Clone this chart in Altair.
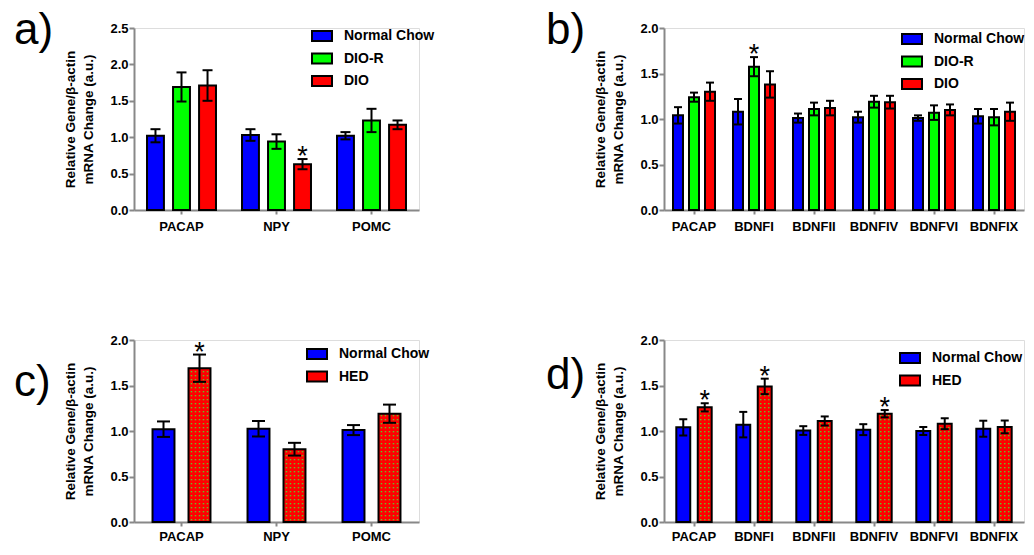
import altair as alt
import pandas as pd

FONT = "Liberation Sans"

# ---------------- data ----------------
groups_dio = ["Normal Chow", "DIO-R", "DIO"]
colors_dio = ["#0000FF", "#00FF00", "#FF0000"]
groups_hed = ["Normal Chow", "HED"]
colors_hed = ["#0000FF", "#FF0000"]

# panel a
genes_a = ["PACAP", "NPY", "POMC"]
a_normal = [1.02, 1.03, 1.02]
a_normal_err = [0.09, 0.08, 0.05]
a_dior = [1.69, 0.94, 1.23]
a_dior_err = [0.20, 0.10, 0.16]
a_dio = [1.71, 0.63, 1.17]
a_dio_err = [0.21, 0.07, 0.06]
a_sig = [("NPY", "DIO")]

# panel b
genes_b = ["PACAP", "BDNFI", "BDNFII", "BDNFIV", "BDNFVI", "BDNFIX"]
b_normal = [1.04, 1.08, 1.01, 1.02, 1.01, 1.03]
b_normal_err = [0.09, 0.14, 0.05, 0.06, 0.03, 0.08]
b_dior = [1.24, 1.575, 1.11, 1.19, 1.07, 1.02]
b_dior_err = [0.05, 0.105, 0.07, 0.065, 0.08, 0.09]
b_dio = [1.30, 1.38, 1.12, 1.185, 1.10, 1.08]
b_dio_err = [0.10, 0.145, 0.08, 0.07, 0.06, 0.10]
b_sig = [("BDNFI", "DIO-R")]

# panel c
genes_c = ["PACAP", "NPY", "POMC"]
c_normal = [1.02, 1.025, 1.01]
c_normal_err = [0.085, 0.085, 0.055]
c_hed = [1.69, 0.80, 1.19]
c_hed_err = [0.15, 0.07, 0.10]
c_sig = [("PACAP", "HED")]

# panel d
genes_d = ["PACAP", "BDNFI", "BDNFII", "BDNFIV", "BDNFVI", "BDNFIX"]
d_normal = [1.04, 1.07, 1.005, 1.015, 1.0, 1.025]
d_normal_err = [0.09, 0.14, 0.048, 0.06, 0.044, 0.088]
d_hed = [1.26, 1.49, 1.11, 1.19, 1.08, 1.045]
d_hed_err = [0.045, 0.085, 0.05, 0.04, 0.06, 0.07]
d_sig = [("PACAP", "HED"), ("BDNFI", "HED"), ("BDNFIV", "HED")]

Y_TITLE = ["Relative Gene/\u03b2-actin", "mRNA Change (a.u.)"]

H = 182


def table(genes, groups, values, errors, sig):
    rows = []
    for g_i, grp in enumerate(groups):
        for k, gene in enumerate(genes):
            v = values[g_i][k]
            e = errors[g_i][k]
            rows.append({"gene": gene, "group": grp, "value": v, "err": e,
                         "lo": v - e, "hi": v + e,
                         "sig": (gene, grp) in sig})
    return pd.DataFrame(rows)


def dot_row_path(offsets):
    return " ".join(f"M{o - 0.75},-0.5h1.5v1h-1.5Z" for o in offsets)


def panel(df, genes, groups, colors, width, height, ymax, xpad, opad, cap,
          letter, letter_xy, legend_xy, label_pad, dot_offsets=None):
    xenc = alt.X("gene:N", sort=genes,
                 scale=alt.Scale(paddingInner=xpad, paddingOuter=xpad / 2),
                 axis=alt.Axis(title=None, labelAngle=0, labelFontSize=13,
                               labelFontWeight="bold", labelFont=FONT,
                               labelPadding=label_pad, tickSize=4, domainWidth=2,
                               tickWidth=2))
    xoff = alt.XOffset("group:N", sort=groups,
                       scale=alt.Scale(paddingInner=opad, paddingOuter=0))
    yaxis = alt.Axis(title=Y_TITLE, values=[i * 0.5 for i in range(int(ymax / 0.5) + 1)],
                     format=".1f", grid=False, labelFontSize=13, labelPadding=1,
                     labelFontWeight="bold", labelFont=FONT,
                     tickSize=5, tickWidth=2, domainWidth=2,
                     titleFontSize=13.5, titleFontWeight="bold", titleLineHeight=18,
                     titlePadding=14, titleFont=FONT)
    yscale = alt.Scale(domain=[0, ymax], nice=False, zero=True)

    base = alt.Chart(df)
    bars = base.mark_bar().encode(
        x=xenc, xOffset=xoff,
        y=alt.Y("value:Q", scale=yscale, axis=yaxis),
        stroke=alt.value("black"), strokeWidth=alt.value(2),
        color=alt.Color("group:N", sort=groups,
                        scale=alt.Scale(domain=groups, range=colors),
                        legend=alt.Legend(title=None, orient="none",
                                          legendX=legend_xy[0], legendY=legend_xy[1],
                                          symbolType="M-1,-0.5H1V0.5H-1Z",
                                          symbolSize=400, symbolStrokeColor="black",
                                          symbolStrokeWidth=2, symbolOpacity=1,
                                          labelFontSize=14, labelFontWeight="bold",
                                          labelFont=FONT, labelColor="black",
                                          labelOffset=11, rowPadding=2.5)),
    )
    layers = [bars]
    if dot_offsets is not None:
        step = 4.0 * ymax / height
        dots = base.transform_filter("datum.group == 'HED'").transform_calculate(
            ys=f"sequence(0.025, datum.value - 0.02, {step})"
        ).transform_flatten(["ys"]).mark_point(
            shape=dot_row_path(dot_offsets), size=4, filled=True,
            color="#33FF33", opacity=1, strokeWidth=0
        ).encode(x=xenc, xOffset=xoff, y=alt.Y("ys:Q", scale=yscale, axis=yaxis))
        layers.append(dots)
    rule = base.mark_rule(color="black", strokeWidth=2).encode(
        x=xenc, xOffset=xoff,
        y=alt.Y("lo:Q", scale=yscale, axis=yaxis), y2="hi:Q")
    cap_hi = base.mark_tick(color="black", thickness=2, size=cap, opacity=1).encode(
        x=xenc, xOffset=xoff, y=alt.Y("hi:Q", scale=yscale, axis=yaxis))
    cap_lo = base.mark_tick(color="black", thickness=2, size=cap, opacity=1).encode(
        x=xenc, xOffset=xoff, y=alt.Y("lo:Q", scale=yscale, axis=yaxis))
    star = base.transform_filter("datum.sig").mark_text(
        text="*", fontSize=27, font=FONT, baseline="alphabetic", dy=6, color="black"
    ).encode(x=xenc, xOffset=xoff, y=alt.Y("hi:Q", scale=yscale, axis=yaxis))
    lab = alt.Chart(pd.DataFrame({"t": [letter]})).mark_text(
        align="left", baseline="alphabetic", fontSize=44, font=FONT, color="black"
    ).encode(x=alt.value(letter_xy[0]), y=alt.value(letter_xy[1]), text="t:N")
    layers += [rule, cap_hi, cap_lo, star, lab]

    return alt.layer(*layers).properties(width=width, height=height)


df_a = table(genes_a, groups_dio, [a_normal, a_dior, a_dio],
             [a_normal_err, a_dior_err, a_dio_err], a_sig)
df_b = table(genes_b, groups_dio, [b_normal, b_dior, b_dio],
             [b_normal_err, b_dior_err, b_dio_err], b_sig)
df_c = table(genes_c, groups_hed, [c_normal, c_hed], [c_normal_err, c_hed_err], c_sig)
df_d = table(genes_d, groups_hed, [d_normal, d_hed], [d_normal_err, d_hed_err], d_sig)

pa = panel(df_a, genes_a, groups_dio, colors_dio, 285, H, 2.5, 0.274, 0.35, 10,
           "a)", (-120, 16), (177, -3), 6)
pb = panel(df_b, genes_b, groups_dio, colors_dio, 360, H, 2.0, 0.30, 0.375, 8,
           "b)", (-118, 16), (237, 0), 6)
pc = panel(df_c, genes_c, groups_hed, colors_hed, 285, H, 2.0, 0.39, 0.39, 13,
           "c)", (-120, 56), (172, 3), 4, dot_offsets=[-8, -4, 0, 4, 8])
pd_ = panel(df_d, genes_d, groups_hed, colors_hed, 360, H, 2.0, 0.41, 0.35, 8,
            "d)", (-118, 49), (235, 7), 4, dot_offsets=[-4, 0, 4])

chart = alt.concat(pa, pb, pc, pd_, columns=2, bounds="flush",
                   spacing={"row": 130, "column": 245}).resolve_scale(
    color="independent", x="independent", y="independent", xOffset="independent"
).properties(
    padding={"left": 5, "top": 0, "right": 0, "bottom": 0}
).configure_view(stroke=None).configure_axis(
    labelFont=FONT, labelFontWeight="bold", labelColor="black",
    domainColor="black", tickColor="black", titleColor="black", grid=False
).configure(background="white")

chart.save("out.html", embed_options={"renderer": "svg", "actions": False})
